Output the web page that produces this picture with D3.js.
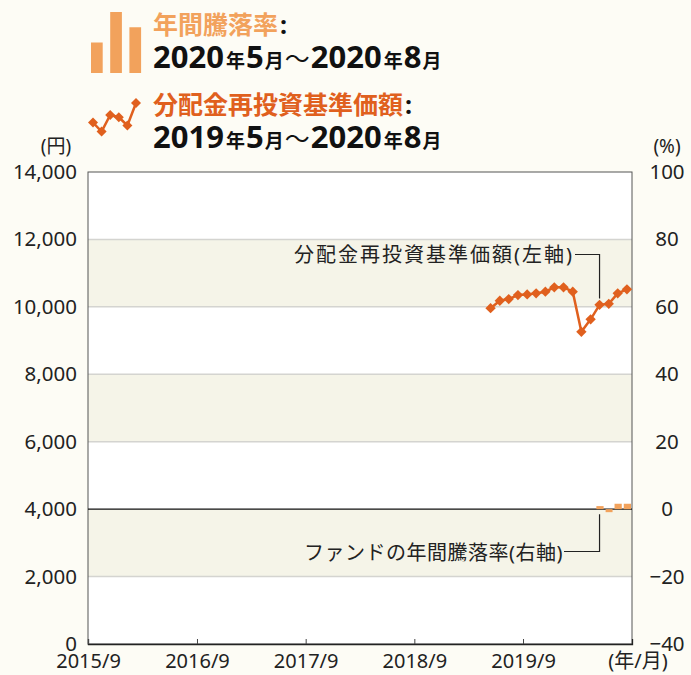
<!DOCTYPE html>
<html>
<head>
<meta charset="utf-8">
<script src="https://cdn.jsdelivr.net/npm/d3@7"></script>
<style>
  body { margin: 0; background: #fdfcf5; }
  svg { display: block; font-family: "Noto Sans", "Noto Sans CJK JP", sans-serif; }
</style>
</head>
<body>
<div id="chart"></div>
<script>
/* DATA */
const navMonths = ["2019/5","2019/6","2019/7","2019/8","2019/9","2019/10","2019/11","2019/12",
  "2020/1","2020/2","2020/3","2020/4","2020/5","2020/6","2020/7","2020/8"]
const navValues = [9960, 10180, 10230, 10350, 10370, 10400, 10450, 10580,
  10580, 10450, 9260, 9630, 10060, 10090, 10400, 10520]
const barMonths = ["2020/5","2020/6","2020/7","2020/8"]
const barValues = [0.9, -0.9, 1.6, 1.6]
const xTicks = ["2015/9","2016/9","2017/9","2018/9","2019/9"]
const leftTicks = [0, 2000, 4000, 6000, 8000, 10000, 12000, 14000]
const rightTicks = [-40, -20, 0, 20, 40, 60, 80, 100]
const bandStarts = [2000, 6000, 10000]
// legend icons
const iconBars = [3, 6, 4.5]
const iconLine = [3, 1.8, 4, 3.7, 2.6, 5.6]

/* CONSTANTS */
const width = 691, height = 675
const margin = { top: 172, bottom: 31, left: 88, right: 59 }
const barColor = "#f2a25c", lineColor = "#e0601e"

const parse = d3.timeParse("%Y/%m")
const midMonth = s => { const d = parse(s); return new Date(d.getFullYear(), d.getMonth(), 15) }

const svg = d3.select("#chart")
  .append("svg")
  .attr("width", width)
  .attr("height", height)

//scales
const xScale = d3.scaleTime()
  .domain([parse("2015/9"), parse("2020/9")])
  .range([margin.left, width - margin.right])

const yScale = d3.scaleLinear()
  .domain([0, 14000])
  .range([height - margin.bottom, margin.top])

const yRight = d3.scaleLinear()
  .domain([-40, 100])
  .range([height - margin.bottom, margin.top])

//plot background and bands
svg.append("rect")
  .attr("x", margin.left)
  .attr("y", margin.top)
  .attr("width", width - margin.left - margin.right)
  .attr("height", height - margin.top - margin.bottom)
  .attr("fill", "#ffffff")

svg.selectAll(".band")
  .data(bandStarts)
  .join("rect")
  .attr("class", "band")
  .attr("x", margin.left)
  .attr("y", d => yScale(d + 2000))
  .attr("width", width - margin.left - margin.right)
  .attr("height", d => yScale(d) - yScale(d + 2000))
  .attr("fill", "#f5f4e8")

//grid lines
svg.selectAll(".grid")
  .data(leftTicks.filter(d => d > 0 && d < 14000 && d !== 4000))
  .join("line")
  .attr("class", "grid")
  .attr("x1", margin.left)
  .attr("x2", width - margin.right)
  .attr("y1", d => yScale(d))
  .attr("y2", d => yScale(d))
  .attr("stroke", "#d4d4d0")
  .attr("stroke-width", 1.5)

//frame
svg.append("rect")
  .attr("x", margin.left)
  .attr("y", margin.top)
  .attr("width", width - margin.left - margin.right)
  .attr("height", height - margin.top - margin.bottom)
  .attr("fill", "none")
  .attr("stroke", "#555")
  .attr("stroke-width", 1)

//zero line (right axis)
svg.append("line")
  .attr("x1", margin.left)
  .attr("x2", width - margin.right)
  .attr("y1", yRight(0))
  .attr("y2", yRight(0))
  .attr("stroke", "#111")
  .attr("stroke-width", 1.3)

const styleTicks = g => g.attr("font-family", null).attr("font-size", null)
  .selectAll(".tick text").attr("font-size", 20.5).attr("fill", "#222")

//x-axis
const xAxis = d3.axisBottom(xScale)
  .tickValues(xTicks.map(parse))
  .tickFormat(d3.timeFormat("%Y/%-m"))
  .tickSize(-5)
  .tickPadding(10)

svg.append("g")
  .attr("class", "x-axis")
  .attr("transform", `translate(0, ${height - margin.bottom})`)
  .call(xAxis)
  .call(g => g.select(".domain").attr("stroke", "#222").attr("stroke-width", 1.3))
  .call(g => g.selectAll(".tick line").attr("stroke", "#444"))
  .call(styleTicks)
  .call(g => g.selectAll(".tick text").attr("font-size", 20))

svg.append("text")
  .attr("x", 638)
  .attr("y", 668)
  .attr("text-anchor", "middle")
  .attr("font-size", 20)
  .attr("fill", "#222")
  .text("(年/月)")

//y-axis left
const yAxis = d3.axisLeft(yScale)
  .tickValues(leftTicks)
  .tickFormat(d3.format(","))
  .tickSize(0)
  .tickPadding(11)

svg.append("g")
  .attr("class", "y-axis")
  .attr("transform", `translate(${margin.left}, 0)`)
  .call(yAxis)
  .call(g => g.select(".domain").remove())
  .call(styleTicks)

svg.append("text")
  .attr("x", 56)
  .attr("y", 153)
  .attr("text-anchor", "middle")
  .attr("font-size", 19)
  .attr("fill", "#222")
  .text("(円)")

//y-axis right
const yAxisR = d3.axisRight(yRight)
  .tickValues(rightTicks)
  .tickSize(0)

svg.append("g")
  .attr("class", "y-axis-right")
  .attr("transform", `translate(${width - margin.right}, 0)`)
  .call(yAxisR)
  .call(g => g.select(".domain").remove())
  .call(styleTicks)
  .call(g => g.selectAll(".tick text").attr("x", 35).attr("text-anchor", "middle"))

svg.append("text")
  .attr("x", 667)
  .attr("y", 153)
  .attr("text-anchor", "middle")
  .attr("font-size", 19)
  .attr("fill", "#222")
  .text("(%)")

//bars
svg.selectAll(".bar")
  .data(barMonths.map((m, i) => ({ m: parse(m), v: barValues[i] })))
  .join("rect")
  .attr("class", "bar")
  .attr("x", d => xScale(d.m) + 1)
  .attr("width", d => xScale(d3.timeMonth.offset(d.m, 1)) - xScale(d.m) - 2)
  .attr("y", d => yRight(Math.max(0, d.v)))
  .attr("height", d => Math.abs(yRight(d.v) - yRight(0)))
  .attr("fill", barColor)

//line
const navData = navMonths.map((m, i) => ({ date: midMonth(m), value: navValues[i] }))

const lineGen = d3.line()
  .x(d => xScale(d.date))
  .y(d => yScale(d.value))

svg.append("path")
  .datum(navData)
  .attr("d", lineGen)
  .attr("fill", "none")
  .attr("stroke", lineColor)
  .attr("stroke-width", 2.5)

const diamond = d3.symbol().type(d3.symbolDiamond2).size(68)

svg.selectAll(".marker")
  .data(navData)
  .join("path")
  .attr("class", "marker")
  .attr("transform", d => `translate(${xScale(d.date)}, ${yScale(d.value)})`)
  .attr("d", diamond)
  .attr("fill", lineColor)

//annotations
const leadX = xScale(midMonth("2020/5"))

svg.append("text")
  .attr("x", 574)
  .attr("y", 262)
  .attr("text-anchor", "end")
  .attr("font-size", 20)
  .attr("letter-spacing", 2)
  .attr("fill", "#222")
  .text("分配金再投資基準価額(左軸)")

svg.append("path")
  .attr("d", `M575,254.5H${leadX}V${yScale(10250)}`)
  .attr("fill", "none")
  .attr("stroke", "#222")
  .attr("stroke-width", 1.2)

svg.append("text")
  .attr("x", 563)
  .attr("y", 560)
  .attr("text-anchor", "end")
  .attr("font-size", 20)
  .attr("letter-spacing", 0.5)
  .attr("fill", "#222")
  .text("ファンドの年間騰落率(右軸)")

svg.append("path")
  .attr("d", `M564,551.5H${leadX}V${yRight(-1.5)}`)
  .attr("fill", "none")
  .attr("stroke", "#222")
  .attr("stroke-width", 1.2)

//legend: bar icon
const iconX = d3.scaleBand().domain(d3.range(iconBars.length)).range([91, 139]).paddingInner(0.5).paddingOuter(0)
const iconY = d3.scaleLinear().domain([0, 6]).range([73, 12])

svg.selectAll(".icon-bar")
  .data(iconBars)
  .join("rect")
  .attr("class", "icon-bar")
  .attr("x", (d, i) => iconX(i))
  .attr("width", 11.7)
  .attr("y", d => iconY(d))
  .attr("height", d => iconY(0) - iconY(d))
  .attr("fill", barColor)

//legend: line icon
const iconLX = d3.scaleLinear().domain([0, iconLine.length - 1]).range([93, 136])
const iconLY = d3.scaleLinear().domain([0, 6]).range([145, 100])

svg.append("path")
  .datum(iconLine)
  .attr("d", d3.line().x((d, i) => iconLX(i)).y(d => iconLY(d)))
  .attr("fill", "none")
  .attr("stroke", lineColor)
  .attr("stroke-width", 2.5)

svg.selectAll(".icon-marker")
  .data(iconLine)
  .join("path")
  .attr("class", "icon-marker")
  .attr("transform", (d, i) => `translate(${iconLX(i)}, ${iconLY(d)})`)
  .attr("d", d3.symbol().type(d3.symbolDiamond2).size(64))
  .attr("fill", lineColor)

//legend text
function legendTitle(y, label, color) {
  const t = svg.append("text")
    .attr("x", 153)
    .attr("y", y)
    .attr("font-weight", "bold")
  t.append("tspan").attr("font-size", 25).attr("fill", color).text(label)
  t.append("tspan").attr("font-size", 25).attr("fill", "#111").attr("dx", 2).text(":")
}

function legendPeriod(y, parts) {
  const t = svg.append("text")
    .attr("x", 153)
    .attr("y", y)
    .attr("font-weight", "bold")
    .attr("fill", "#111")
  parts.forEach(p => {
    t.append("tspan")
      .attr("font-size", p.s)
      .attr("font-weight", p.w || "bold")
      .attr("dx", p.dx || 0)
      .text(p.t)
  })
}

const period = (a, b) => [
  { t: a, s: 31 }, { t: "年", s: 19, dx: 2 }, { t: "5", s: 31, dx: 1 }, { t: "月", s: 19, dx: 1 },
  { t: "～", s: 25, w: "normal", dx: 1 },
  { t: b, s: 31, dx: 1 }, { t: "年", s: 19, dx: 2 }, { t: "8", s: 31, dx: 1 }, { t: "月", s: 19, dx: 1 }
]

legendTitle(34, "年間騰落率", barColor)
legendPeriod(68, period("2020", "2020"))
legendTitle(114, "分配金再投資基準価額", lineColor)
legendPeriod(148, period("2019", "2020"))
</script>
</body>
</html>
